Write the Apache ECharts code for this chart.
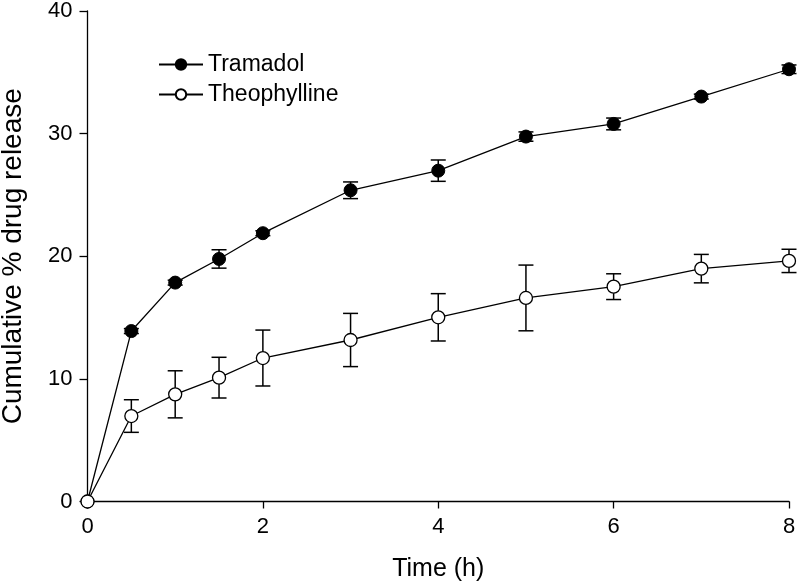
<!DOCTYPE html>
<html>
<head>
<meta charset="utf-8">
<script src="https://cdn.jsdelivr.net/npm/echarts@6/dist/echarts.min.js"></script>
<style>
html,body{margin:0;padding:0;background:#fff;}
#chart{width:799px;height:584px;}
</style>
</head>
<body>
<div id="chart"></div>
<script>
const times = [0, 0.5, 1, 1.5, 2, 3, 4, 5, 6, 7, 8];
const tramadol = [0, 13.9, 17.85, 19.78, 21.88, 25.38, 26.98, 29.76, 30.79, 33.02, 35.25];
const tramadolErr = [0, 0.2, 0.2, 0.75, 0.2, 0.68, 0.87, 0.38, 0.48, 0.2, 0.35];
const theophylline = [0, 6.97, 8.74, 10.1, 11.7, 13.17, 15.02, 16.6, 17.52, 18.99, 19.62];
const theophyllineErr = [0, 1.33, 1.92, 1.66, 2.28, 2.17, 1.93, 2.68, 1.05, 1.16, 0.95];
const xTicks = [0, 2, 4, 6, 8];
const yTicks = [0, 10, 20, 30, 40];

const FONT = '"Liberation Sans", Arial, sans-serif';

function errData(vals, errs) {
  return times.map((t, i) => [t, vals[i], errs[i]]).filter(d => d[2] > 0);
}

function renderErr(params, api) {
  const x = api.value(0), y = api.value(1), e = api.value(2);
  const top = api.coord([x, y + e]);
  const bot = api.coord([x, y - e]);
  const hw = 7.5;
  const st = { stroke: '#000', lineWidth: 1.5 };
  return {
    type: 'group',
    children: [
      { type: 'line', shape: { x1: top[0], y1: top[1], x2: bot[0], y2: bot[1] }, style: st },
      { type: 'line', shape: { x1: top[0] - hw, y1: top[1], x2: top[0] + hw, y2: top[1] }, style: st },
      { type: 'line', shape: { x1: bot[0] - hw, y1: bot[1], x2: bot[0] + hw, y2: bot[1] }, style: st }
    ]
  };
}

const chart = echarts.init(document.getElementById('chart'), null, { renderer: 'canvas' });
chart.setOption({
  animation: false,
  backgroundColor: '#fff',
  textStyle: { fontFamily: FONT },
  grid: { left: 87.5, right: 10, top: 11, bottom: 82.5, containLabel: false, outerBoundsMode: 'none' },
  legend: {
    orient: 'vertical',
    left: 153,
    top: 48,
    itemWidth: 44,
    itemHeight: 13,
    itemGap: 7,
    data: ['Tramadol', 'Theophylline'],
    textStyle: { fontSize: 23, color: '#000', fontFamily: FONT }
  },
  xAxis: {
    type: 'value',
    min: 0, max: 8, interval: 2,
    name: 'Time (h)',
    nameLocation: 'middle',
    nameGap: 55,
    nameTextStyle: { fontSize: 25, color: '#000', fontFamily: FONT },
    axisLine: { show: true, lineStyle: { color: '#000', width: 1.3 } },
    axisTick: { show: true, length: 7, lineStyle: { color: '#000', width: 1.3 } },
    axisLabel: { fontSize: 22, color: '#000', margin: 14, fontFamily: FONT,
      customValues: xTicks },
    splitLine: { show: false }
  },
  yAxis: {
    type: 'value',
    min: 0, max: 40, interval: 10,
    name: 'Cumulative % drug release',
    nameLocation: 'middle',
    nameGap: 60,
    nameTextStyle: { fontSize: 28, color: '#000', fontFamily: FONT },
    axisLine: { show: true, lineStyle: { color: '#000', width: 1.3 } },
    axisTick: { show: true, length: 8, lineStyle: { color: '#000', width: 1.3 } },
    axisLabel: { fontSize: 22, color: '#000', margin: 15, fontFamily: FONT,
      customValues: yTicks },
    splitLine: { show: false }
  },
  series: [
    {
      name: 'TramadolErr', type: 'custom', z: 1,
      renderItem: renderErr,
      data: errData(tramadol, tramadolErr),
      encode: { x: 0, y: 1 }
    },
    {
      name: 'TheophyllineErr', type: 'custom', z: 1,
      renderItem: renderErr,
      data: errData(theophylline, theophyllineErr),
      encode: { x: 0, y: 1 }
    },
    {
      name: 'Tramadol', type: 'line', z: 3,
      data: times.map((t, i) => [t, tramadol[i]]),
      symbol: 'circle', symbolSize: 13,
      lineStyle: { color: '#000', width: 1.3 },
      itemStyle: { color: '#000', borderColor: '#000', borderWidth: 1 },
      clip: false
    },
    {
      name: 'Theophylline', type: 'line', z: 3,
      data: times.map((t, i) => [t, theophylline[i]]),
      symbol: 'circle', symbolSize: 13,
      showAllSymbol: true,
      lineStyle: { color: '#000', width: 1.3 },
      itemStyle: { color: '#fff', borderColor: '#000', borderWidth: 1.3 },
      clip: false
    }
  ]
});
</script>
</body>
</html>
